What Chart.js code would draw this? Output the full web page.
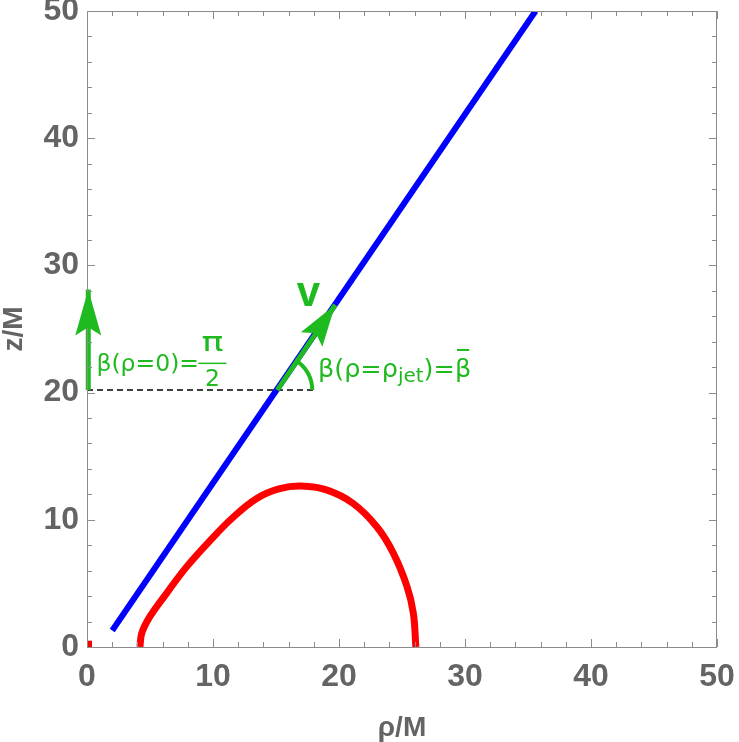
<!DOCTYPE html>
<html>
<head>
<meta charset="utf-8">
<script src="https://cdn.jsdelivr.net/npm/chart.js@4.4.1/dist/chart.umd.min.js"></script>
<style>
  html, body { margin: 0; padding: 0; background: #fff; }
</style>
</head>
<body>
<canvas id="chart" width="739" height="742"></canvas>
<script>
/* ── Data ─────────────────────────────────────────────── */
const xTicks = [0, 10, 20, 30, 40, 50];
const yTicks = [0, 10, 20, 30, 40, 50];

// jet direction (blue)
const jetRho = [2.0, 35.6];
const jetZ   = [1.3, 50.0];

// red curve
const redRho = [4.2, 4.35, 5.0, 6.3, 7.9, 9.8, 11.6, 13.5, 15.3, 17.0, 19.0, 21.1, 23.0, 24.3, 25.4, 25.9, 26.1];
const redZ   = [0.0, 1.1, 2.4, 4.2, 6.3, 8.4, 10.2, 11.7, 12.45, 12.65, 12.35, 11.3, 9.45, 7.4, 4.75, 2.65, 0.0];

// tiny red stub at the origin
const stubRho = [0.2, 0.2];
const stubZ   = [0.0, 0.5];

// dashed reference line at the launch height
const dashRho = [0.0, 18.0];
const dashZ   = [20.2, 20.2];

// green arrows: tail -> tip
const axisArrowRho = [0.1, 0.1];
const axisArrowZ   = [20.2, 28.1];
const velArrowRho  = [15.1, 19.7];
const velArrowZ    = [20.2, 26.9];

/* ── Styles ───────────────────────────────────────────── */
const BLUE = '#0000ff';
const RED = '#ff0000';
const GREEN = '#1fba1f';
const AXIS_TXT = '#646464';
const FRAME = '#8c8c8c';
const AXIS_FONT = '"Liberation Sans", Arial, sans-serif';
const LBL_FONT = '"DejaVu Sans", sans-serif';

function pts(xs, ys) { return xs.map((x, i) => ({ x: x, y: ys[i] })); }

/* ── Frame with inward ticks on all four sides ────────── */
const framePlugin = {
    id: 'frame',
    afterDatasetsDraw(chart) {
        const { ctx, chartArea: a, scales: { x, y } } = chart;
        ctx.save();
        ctx.strokeStyle = FRAME;
        ctx.lineWidth = 1;
        ctx.strokeRect(a.left + 0.5, a.top + 0.5, a.right - a.left - 1, a.bottom - a.top);
        for (let v = 0; v <= 50; v += 2) {
            const len = v % 10 === 0 ? 8 : 5;
            const px = Math.round(x.getPixelForValue(v)) + 0.5;
            const py = Math.round(y.getPixelForValue(v)) + 0.5;
            ctx.beginPath();
            ctx.moveTo(px, a.bottom); ctx.lineTo(px, a.bottom - len);
            ctx.moveTo(px, a.top); ctx.lineTo(px, a.top + len);
            ctx.moveTo(a.left, py); ctx.lineTo(a.left + len, py);
            ctx.moveTo(a.right, py); ctx.lineTo(a.right - len, py);
            ctx.stroke();
        }
        ctx.restore();
    }
};

/* ── Arrowheads, angle arc and labels ─────────────────── */
function arrowHead(ctx, x0, y0, x1, y1, L, W) {
    const ang = Math.atan2(y1 - y0, x1 - x0);
    const c = Math.cos(ang), s = Math.sin(ang);
    const bx = x1 - L * c, by = y1 - L * s;
    const nx = x1 - L * 0.82 * c, ny = y1 - L * 0.82 * s;
    ctx.beginPath();
    ctx.moveTo(x1, y1);
    ctx.lineTo(bx - W * s, by + W * c);
    ctx.lineTo(nx, ny);
    ctx.lineTo(bx + W * s, by - W * c);
    ctx.closePath();
    ctx.fill();
}

const annotPlugin = {
    id: 'annot',
    afterDatasetsDraw(chart) {
        const { ctx, scales: { x, y } } = chart;
        const X = v => x.getPixelForValue(v), Y = v => y.getPixelForValue(v);
        ctx.save();
        ctx.fillStyle = GREEN;
        ctx.strokeStyle = GREEN;

        arrowHead(ctx, X(axisArrowRho[0]), Y(axisArrowZ[0]), X(axisArrowRho[1]), Y(axisArrowZ[1]), 46, 13);
        arrowHead(ctx, X(velArrowRho[0]), Y(velArrowZ[0]), X(velArrowRho[1]), Y(velArrowZ[1]), 42, 13);

        // angle arc between dashed line and jet
        const cx = X(velArrowRho[0]), cy = Y(velArrowZ[0]);
        const a1 = Math.atan2(Y(velArrowZ[1]) - cy, X(velArrowRho[1]) - cx);
        ctx.lineWidth = 4;
        ctx.beginPath();
        ctx.arc(cx, cy, 35, a1, 0);
        ctx.stroke();

        // "v"
        ctx.textBaseline = 'middle';
        ctx.textAlign = 'center';
        ctx.font = 'bold 42px "Liberation Sans", Arial, sans-serif';
        ctx.fillText('v', X(17.57), Y(27.75));

        // β(ρ=0)=π/2
        ctx.textAlign = 'left';
        ctx.font = '23.5px ' + LBL_FONT;
        ctx.fillText('β(ρ=0)=', X(0.75), Y(22.2));
        const fx = X(9.95);
        ctx.textAlign = 'center';
        ctx.save();
        ctx.translate(fx, Y(23.8));
        ctx.scale(1.35, 1);
        ctx.font = '27px ' + LBL_FONT;
        ctx.fillText('π', 0, 0);
        ctx.restore();
        ctx.font = '23.5px ' + LBL_FONT;
        ctx.fillText('2', fx, Y(21.0));
        ctx.lineWidth = 1.5;
        ctx.beginPath();
        ctx.moveTo(fx - 14, Y(22.3)); ctx.lineTo(fx + 14, Y(22.3));
        ctx.stroke();

        // β(ρ=ρjet)=β̄
        ctx.textAlign = 'left';
        let tx = X(18.33);
        const ty = Y(21.78);
        ctx.font = '25.5px ' + LBL_FONT;
        ctx.fillText('β(ρ=ρ', tx, ty);
        tx += ctx.measureText('β(ρ=ρ').width;
        ctx.font = '20px ' + LBL_FONT;
        ctx.fillText('jet', tx, ty + 7);
        tx += ctx.measureText('jet').width;
        ctx.font = '25.5px ' + LBL_FONT;
        ctx.fillText(')=', tx, ty);
        tx += ctx.measureText(')=').width;
        const bw = ctx.measureText('β').width;
        ctx.fillText('β', tx, ty);
        ctx.lineWidth = 2;
        ctx.beginPath();
        ctx.moveTo(tx + 2, ty - 20); ctx.lineTo(tx + bw - 2, ty - 20);
        ctx.stroke();
        ctx.restore();
    }
};

/* ── Chart ────────────────────────────────────────────── */
const line = (data, color, width, order, extra) => Object.assign({
    data: data,
    showLine: true,
    borderColor: color,
    backgroundColor: color,
    borderWidth: width,
    pointRadius: 0,
    fill: false,
    order: order,
}, extra || {});

function noPad(s) {
    s.paddingTop = 0; s.paddingBottom = 0; s.paddingLeft = 0; s.paddingRight = 0;
}

new Chart(document.getElementById('chart').getContext('2d'), {
    type: 'scatter',
    data: {
        datasets: [
            line(pts(axisArrowRho, axisArrowZ), GREEN, 5, 0, { clip: false }),
            line(pts(velArrowRho, velArrowZ), GREEN, 5, 0),
            line(pts(jetRho, jetZ), BLUE, 6, 1),
            line(pts(redRho, redZ), RED, 7, 2, { tension: 0.4, clip: false }),
            line(pts(stubRho, stubZ), RED, 5, 2, { clip: false }),
            line(pts(dashRho, dashZ), '#000000', 1.5, 3, { borderDash: [6, 4] }),
        ]
    },
    options: {
        responsive: false,
        animation: false,
        layout: { autoPadding: false, padding: { top: 11, right: 22, left: 0, bottom: 0 } },
        plugins: { legend: { display: false }, tooltip: { enabled: false } },
        scales: {
            x: {
                type: 'linear', min: 0, max: 50,
                afterBuildTicks: s => { s.ticks = xTicks.map(v => ({ value: v })); },
                afterFit: s => { s.height = 95; noPad(s); },
                grid: { display: false, drawTicks: false },
                border: { display: false },
                ticks: { color: AXIS_TXT, padding: 11, font: { family: AXIS_FONT, size: 32, weight: 'bold' } },
                title: { display: true, text: 'ρ/M', color: AXIS_TXT, padding: { top: 0, bottom: 0 },
                         font: { family: AXIS_FONT, size: 28, weight: 'bold', lineHeight: 1 } }
            },
            y: {
                type: 'linear', min: 0, max: 50,
                afterBuildTicks: s => { s.ticks = yTicks.map(v => ({ value: v })); },
                afterFit: s => { s.width = 87; noPad(s); },
                grid: { display: false, drawTicks: false },
                border: { display: false },
                ticks: { color: AXIS_TXT, padding: 8, font: { family: AXIS_FONT, size: 32, weight: 'bold' } },
                title: { display: true, text: 'z/M', color: AXIS_TXT, padding: { top: 0, bottom: 0 },
                         font: { family: AXIS_FONT, size: 28, weight: 'bold', lineHeight: 1 } }
            }
        }
    },
    plugins: [framePlugin, annotPlugin]
});
</script>
</body>
</html>
